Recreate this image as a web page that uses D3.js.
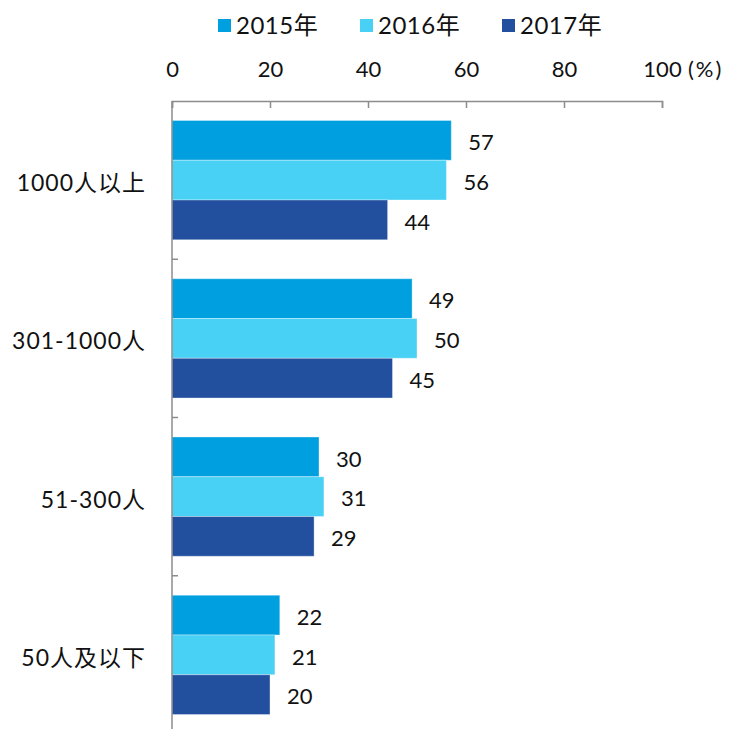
<!DOCTYPE html>
<html>
<head>
<meta charset="utf-8">
<script src="https://cdn.jsdelivr.net/npm/d3@7"></script>
<style>
  html, body { margin: 0; padding: 0; background: #fff; }
  text { font-family: Lato, "Noto Sans CJK SC", sans-serif; fill: #111; }
</style>
</head>
<body>
<div id="chart"></div>
<script>
// data
const categories = ["1000人以上", "301-1000人", "51-300人", "50人及以下"];
const series = ["2015年", "2016年", "2017年"];
const values2015 = [57, 49, 30, 22];
const values2016 = [56, 50, 31, 21];
const values2017 = [44, 45, 29, 20];
const xTicks = [0, 20, 40, 60, 80, 100];
const colors = ["#009fe0", "#48d1f4", "#22509f"];

const W = 729, H = 729;
const svg = d3.select("#chart").append("svg")
  .attr("width", W)
  .attr("height", H);

const x = d3.scaleLinear().domain([0, 100]).range([172, 662]);
const y = d3.scaleBand().domain(categories).range([101, 734]).paddingInner(0).paddingOuter(0);
const ySub = d3.scaleBand().domain(series).range([0, y.bandwidth()]).paddingInner(0).paddingOuter(0.49);

const allValues = [values2015, values2016, values2017];

// bars + value labels
categories.forEach((cat, ci) => {
  series.forEach((s, si) => {
    const v = allValues[si][ci];
    svg.append("rect")
      .attr("x", x(0))
      .attr("y", y(cat) + ySub(s))
      .attr("width", x(v) - x(0))
      .attr("height", ySub.bandwidth())
      .attr("fill", colors[si])
      .attr("stroke", "rgba(255,255,255,0.35)")
      .attr("stroke-width", 1);

    svg.append("text")
      .attr("x", x(v) + 17)
      .attr("y", y(cat) + ySub(s) + ySub.bandwidth() / 2 + 2)
      .attr("dy", "0.35em")
      .style("font-size", "22px")
      .text(v);
  });
});

// top axis
const xAxis = d3.axisTop(x)
  .tickValues(xTicks)
  .tickSize(-7)
  .tickPadding(24)
  .tickSizeOuter(-7);
const gx = svg.append("g")
  .attr("transform", `translate(0,${101})`)
  .call(xAxis);
gx.select(".domain").attr("stroke", "#8c8c8c").attr("stroke-width", 1.5);
gx.selectAll(".tick line").attr("stroke", "#8c8c8c").attr("stroke-width", 1.5);
gx.selectAll(".tick text").style("font-size", "22px").attr("fill", "#111");

svg.append("text")
  .attr("x", x(100) + 26)
  .attr("y", 101 - 24)
  .style("font-size", "22px")
  .style("letter-spacing", "2px")
  .text("(%)");

// left axis
svg.append("line")
  .attr("x1", x(0)).attr("x2", x(0))
  .attr("y1", 101).attr("y2", H)
  .attr("stroke", "#8c8c8c")
  .attr("stroke-width", 1.5);

categories.slice(1).forEach(cat => {
  svg.append("line")
    .attr("x1", x(0)).attr("x2", x(0) + 6)
    .attr("y1", y(cat)).attr("y2", y(cat))
    .attr("stroke", "#8c8c8c")
    .attr("stroke-width", 1.5);
});

categories.forEach(cat => {
  svg.append("text")
    .attr("x", 146)
    .attr("y", y(cat) + y.bandwidth() / 2 + 3)
    .attr("dy", "0.35em")
    .attr("text-anchor", "end")
    .style("font-size", "23px")
    .style("letter-spacing", "1px")
    .text(cat);
});

// legend
const legendX = [218, 360, 502];
series.forEach((s, i) => {
  svg.append("rect")
    .attr("x", legendX[i])
    .attr("y", 19)
    .attr("width", 13)
    .attr("height", 13)
    .attr("fill", colors[i]);
  svg.append("text")
    .attr("x", legendX[i] + 18)
    .attr("y", 26)
    .attr("dy", "0.35em")
    .style("font-size", "24px")
    .style("letter-spacing", "0.5px")
    .text(s);
});
</script>
</body>
</html>
